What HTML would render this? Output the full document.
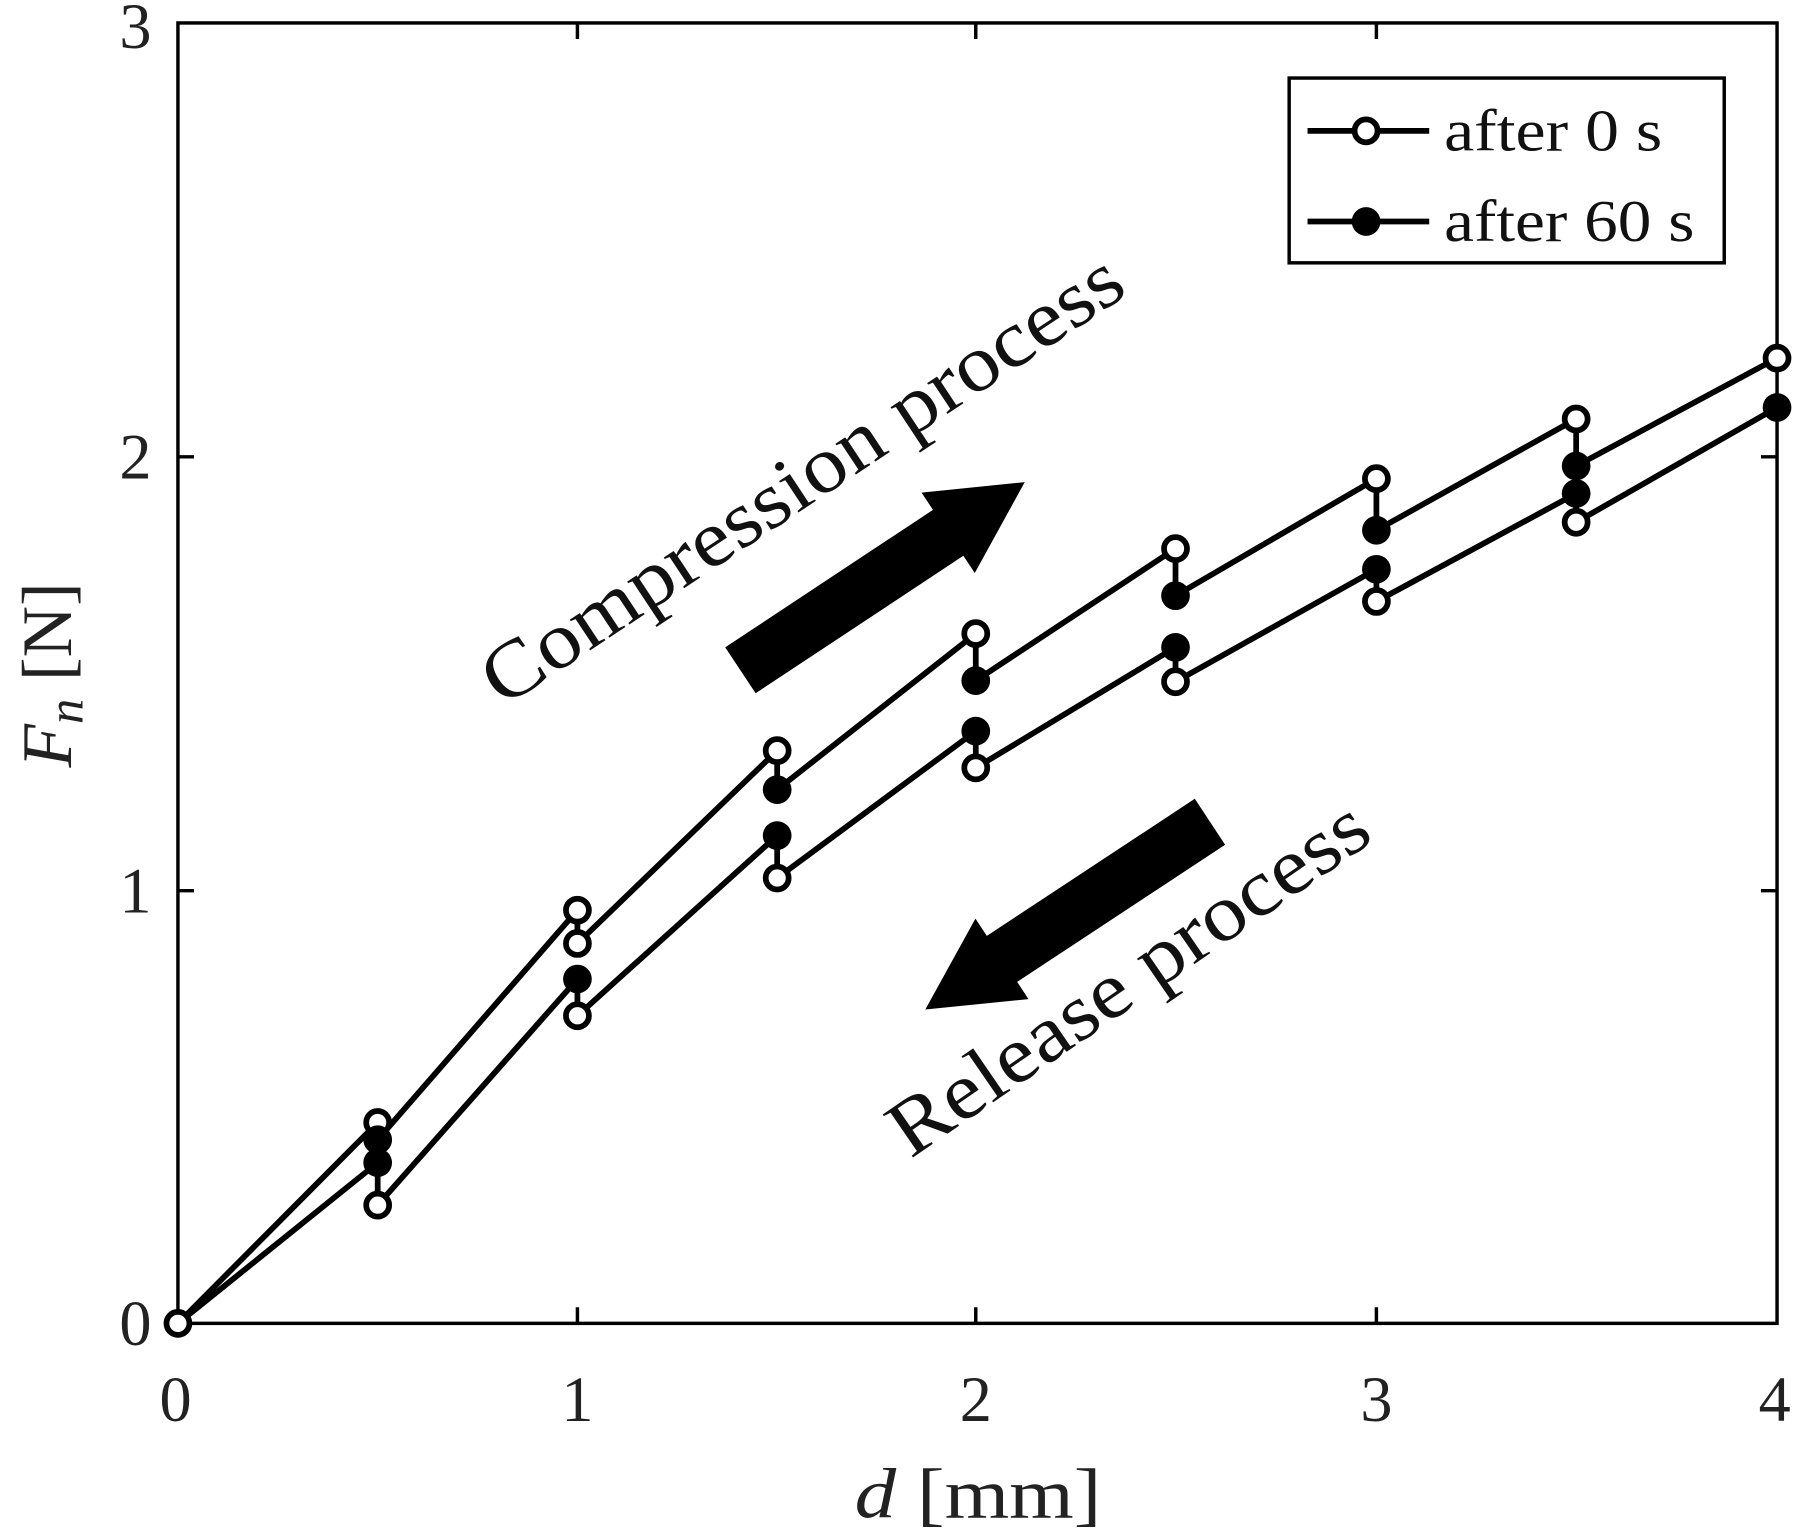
<!DOCTYPE html>
<html><head><meta charset="utf-8"><style>html,body{margin:0;padding:0;background:#fff}svg{display:block}text{font-family:"Liberation Serif","Times New Roman",serif}</style></head>
<body>
<svg width="1800" height="1538" viewBox="0 0 1568 1340" preserveAspectRatio="none" xmlns="http://www.w3.org/2000/svg">
<rect x="0" y="0" width="1568" height="1340" fill="#fff"/>
<g stroke="#000" stroke-width="3" fill="none">
<rect x="155" y="20" width="1393" height="1133"/>
<path d="M503,1153v-14M850,1153v-14M1199,1153v-14M503,20v14M850,20v14M1199,20v14M155,776h14M155,398h14M1548,776h-14M1548,398h-14"/>
</g>
<g font-size="56" fill="#222" text-anchor="middle">
<text x="153" y="1238">0</text><text x="503" y="1238">1</text><text x="850" y="1238">2</text><text x="1199" y="1238">3</text><text x="1546" y="1238">4</text>
<text x="118" y="1172">0</text><text x="118" y="795">1</text><text x="118" y="417">2</text><text x="118" y="42">3</text>
<text x="852" y="1322" font-size="62" textLength="215" lengthAdjust="spacingAndGlyphs"><tspan font-style="italic">d</tspan> [mm]</text>
<text transform="translate(62,588) rotate(-90)" font-size="62"><tspan font-style="italic">F</tspan><tspan font-style="italic" font-size="44" dy="10">n</tspan><tspan dy="-10"> [N]</tspan></text>
</g>
<g stroke="#000" stroke-width="5" fill="none" stroke-linejoin="round">
<polyline points="155,1153 329,978 329,993 503,793 503,822 677,654 677,688 850,552 850,593 1024,478 1024,519 1199,417 1199,462 1373,365 1373,406 1548,312"/>
<polyline points="155,1153 329,1013 329,1050 503,853 503,885 677,728 677,765 850,637 850,669 1024,564 1024,594 1199,496 1199,524 1373,430 1373,455 1548,355"/>
</g>
<g stroke="#000" stroke-width="5" fill="#fff">
<circle cx="155" cy="1153" r="10"/>
<circle cx="329" cy="978" r="10"/><circle cx="329" cy="1050" r="10"/>
<circle cx="503" cy="793" r="10"/><circle cx="503" cy="822" r="10"/><circle cx="503" cy="885" r="10"/>
<circle cx="677" cy="654" r="10"/><circle cx="677" cy="765" r="10"/>
<circle cx="850" cy="552" r="10"/><circle cx="850" cy="669" r="10"/>
<circle cx="1024" cy="478" r="10"/><circle cx="1024" cy="594" r="10"/>
<circle cx="1199" cy="417" r="10"/><circle cx="1199" cy="524" r="10"/>
<circle cx="1373" cy="365" r="10"/><circle cx="1373" cy="455" r="10"/>
<circle cx="1548" cy="312" r="10"/>
</g>
<g fill="#000">
<circle cx="329" cy="993" r="12.5"/><circle cx="329" cy="1013" r="12.5"/>
<circle cx="503" cy="853" r="12.5"/>
<circle cx="677" cy="688" r="12.5"/><circle cx="677" cy="728" r="12.5"/>
<circle cx="850" cy="593" r="12.5"/><circle cx="850" cy="637" r="12.5"/>
<circle cx="1024" cy="519" r="12.5"/><circle cx="1024" cy="564" r="12.5"/>
<circle cx="1199" cy="462" r="12.5"/><circle cx="1199" cy="496" r="12.5"/>
<circle cx="1373" cy="406" r="12.5"/><circle cx="1373" cy="430" r="12.5"/>
<circle cx="1548" cy="355" r="12.5"/>
<polygon transform="translate(645,584) rotate(-33.5)" points="0,-24 217,-24 217,-42 297,0 217,42 217,24 0,24"/>
<polygon transform="translate(1054,716) rotate(146.6)" points="0,-24 217,-24 217,-42 297,0 217,42 217,24 0,24"/>
</g>
<g font-size="70" fill="#111">
<text transform="translate(438,617) rotate(-33.5)" textLength="655" lengthAdjust="spacingAndGlyphs">Compression process</text>
<text transform="translate(793,1010) rotate(-34.5)" textLength="492" lengthAdjust="spacingAndGlyphs">Release process</text>
</g>
<rect x="1123" y="68" width="379" height="161" fill="#fff" stroke="#000" stroke-width="3"/>
<g stroke="#000" stroke-width="5"><line x1="1139" y1="114" x2="1245" y2="114"/><line x1="1139" y1="193" x2="1245" y2="193"/></g>
<circle cx="1190" cy="114" r="10" fill="#fff" stroke="#000" stroke-width="5"/>
<circle cx="1190" cy="193" r="12.5" fill="#000"/>
<g font-size="52" fill="#111"><text x="1258" y="131" textLength="190" lengthAdjust="spacingAndGlyphs">after 0 s</text><text x="1258" y="210" textLength="218" lengthAdjust="spacingAndGlyphs">after 60 s</text></g>
</svg>
</body></html>
